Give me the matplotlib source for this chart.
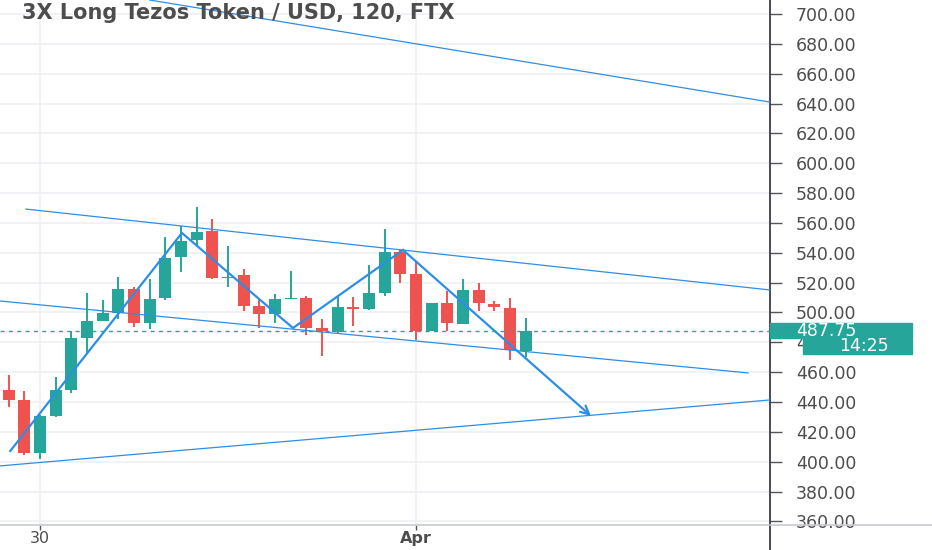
import matplotlib
matplotlib.use("Agg")
import matplotlib.pyplot as plt
from matplotlib.patches import Rectangle
from matplotlib.lines import Line2D
from matplotlib.transforms import blended_transform_factory

# 120-minute candles, index 0 = start of Mar 30, index 24 = Apr 1
idx = list(range(-2, 32))
opens = [448.1, 441.4, 406.0, 430.6, 448.1, 482.9, 494.3, 499.7, 515.7, 493.0,
         509.7, 537.2, 548.6, 554.6, 523.2, 525.1, 504.4, 499.0, 509.2, 509.7,
         489.6, 487.0, 503.7, 502.3, 513.0, 540.5, 525.8, 487.6, 506.4, 492.3,
         515.0, 505.7, 503.0, 474.2]
highs = [458.1, 447.4, 431.0, 456.8, 487.6, 513.0, 508.4, 523.8, 517.0, 522.4,
         550.6, 558.0, 570.7, 562.6, 544.6, 529.1, 509.0, 512.4, 527.8, 511.0,
         495.6, 511.7, 510.4, 531.8, 556.0, 541.9, 534.5, 506.4, 514.4, 522.4,
         519.8, 507.7, 509.7, 496.3]
lows = [436.7, 404.5, 402.0, 430.0, 446.0, 472.9, 494.0, 495.6, 490.3, 489.0,
        508.4, 527.1, 543.9, 522.4, 517.0, 501.0, 489.6, 493.0, 509.0, 484.9,
        470.9, 486.3, 490.9, 501.7, 511.0, 519.8, 481.6, 487.6, 487.6, 492.3,
        501.0, 501.0, 468.2, 470.2]
closes = [441.4, 405.9, 430.6, 448.1, 482.9, 494.3, 499.7, 515.7, 493.0, 509.0,
          536.5, 547.9, 553.9, 523.1, 524.0, 504.4, 499.0, 509.0, 509.7, 489.6,
          487.6, 503.7, 502.3, 513.0, 540.5, 525.8, 487.6, 506.4, 493.0, 515.0,
          506.4, 503.7, 474.9, 487.75]

last_price = 487.75
countdown = "14:25"

# drawn trend lines (bar index, price)
top_line = [(7.0, 709.4), (46.6, 641.0)]
channel_upper = [(-0.9, 569.3), (46.6, 515.1)]
channel_lower = [(-2.55, 507.7), (45.2, 459.5)]
support_line = [(-2.55, 397.2), (46.6, 441.4)]
zigzag_x = [-1.9, 9.06, 16.15, 23.17]
zigzag_y = [407.2, 553.3, 489.6, 541.9]
arrow_end = (35.17, 430.7)

y_ticks = list(range(360, 701, 20))
x_ticks = [0, 24]
x_labels = ["30", "Apr"]
title = "3X Long Tezos Token / USD, 120, FTX"

green = "#26a69a"
red = "#ef5350"
blue = "#2d8ee8"
text_col = "#4d4d4d"

fig = plt.figure(figsize=(9.32, 5.5), dpi=100)
ax = fig.add_axes([0, 25 / 550, 770 / 932, 525 / 550])
ax.set_xlim(-2.553, 46.6)
ax.set_ylim(357.6, 709.4)

# grid
ax.set_yticks(y_ticks)
ax.set_yticklabels([f"{v:.2f}" for v in y_ticks])
ax.set_xticks(x_ticks)
ax.set_xticklabels(x_labels)
ax.grid(True, color="#eef0f4", linewidth=1.2, zorder=0)
ax.set_axisbelow(True)

# candles
for x, o, h, l, c in zip(idx, opens, highs, lows, closes):
    col = green if c >= o else red
    ax.vlines(x, l, h, color=col, linewidth=1.4, zorder=3)
    body = max(abs(c - o), 0.8)
    ax.bar(x, body, bottom=min(o, c), width=0.76, color=col, zorder=3, linewidth=0)

# trend lines
for line in (top_line, channel_upper, channel_lower, support_line):
    ax.plot([p[0] for p in line], [p[1] for p in line], color=blue, linewidth=0.9, zorder=4)
ax.plot(zigzag_x, zigzag_y, color=blue, linewidth=1.6, zorder=4, solid_joinstyle="miter")
ax.annotate("", xy=arrow_end, xytext=(zigzag_x[-1], zigzag_y[-1]),
            arrowprops=dict(arrowstyle="->,head_length=0.6,head_width=0.3",
                            color=blue, lw=1.6, shrinkA=0, shrinkB=0), zorder=4)

# last price line
ax.axhline(last_price, color=green, linewidth=1, linestyle=(0, (3, 3)), zorder=5)

# axes style
for side in ("top", "left"):
    ax.spines[side].set_visible(False)
ax.spines["right"].set_color("#2a2e39")
ax.spines["right"].set_linewidth(1.2)
ax.spines["bottom"].set_color("#c8cad0")
ax.spines["bottom"].set_linewidth(1.2)
ax.yaxis.tick_right()
ax.tick_params(axis="y", length=8.5, width=1, color="#555555", pad=10,
               labelsize=12.5, labelcolor=text_col, left=False)
ax.tick_params(axis="x", length=3.5, width=1, color="#555555", pad=1,
               labelsize=11.5, labelcolor=text_col)
ax.get_xticklabels()[1].set_fontweight("bold")

# extensions of axis lines outside the plot
fig.add_artist(Line2D([770 / 932, 770 / 932], [0, 25 / 550], color="#2a2e39", linewidth=1.2))
fig.add_artist(Line2D([770 / 932, 1], [25 / 550, 25 / 550], color="#c8cad0", linewidth=1.2))

# price and countdown labels
tr = blended_transform_factory(ax.transAxes, ax.transData)
ax.add_patch(Rectangle((1.0, last_price - 5.1), 142 / 770, 10.2, transform=tr,
                       color=green, clip_on=False, zorder=10))
ax.add_patch(Rectangle((803 / 770, last_price - 15.4), 109 / 770, 10.2, transform=tr,
                       color=green, clip_on=False, zorder=10))
ax.text(796 / 770, last_price, f"{last_price:.2f}", transform=tr, color="white",
        fontsize=12.5, va="center", ha="left", zorder=11, clip_on=False)
ax.text(889 / 770, last_price - 10.3, countdown, transform=tr, color="white",
        fontsize=12.5, va="center", ha="right", zorder=11, clip_on=False)

fig.text(22 / 932, 1 - 13 / 550, title, fontsize=15, fontweight="bold",
         color=text_col, va="center", ha="left")

fig.savefig("out.png", dpi=100)
